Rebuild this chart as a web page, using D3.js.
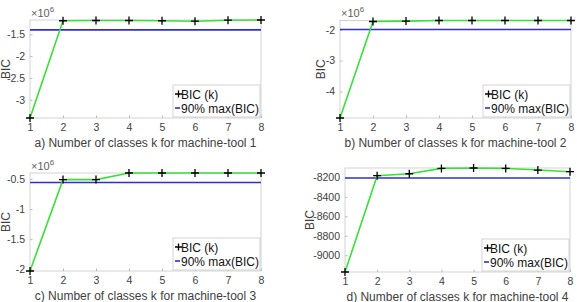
<!DOCTYPE html>
<html lang="en">
<head>
<meta charset="UTF-8">
<title>BIC vs number of classes</title>
<script src="https://d3js.org/d3.v7.min.js"></script>
<style>
  body { margin: 0; background: #fff; }
  text { font-family: "Liberation Sans", Arial, sans-serif; fill: #404040; }
</style>
</head>
<body>
<svg width="577" height="302"></svg>
<script>
// number of classes
const k = [1, 2, 3, 4, 5, 6, 7, 8];

// BIC values per machine-tool (a, b, c in units of 1e6)
const bicA = [-3.417, -1.19, -1.185, -1.185, -1.19, -1.20, -1.178, -1.173];
const bicB = [-4.86, -1.733, -1.72, -1.70, -1.70, -1.70, -1.70, -1.70];
const bicC = [-2.03, -0.51, -0.51, -0.40, -0.40, -0.40, -0.40, -0.40];
const bicD = [-9173, -8182, -8162, -8107, -8103, -8107, -8124, -8141];

// 90% max(BIC) thresholds
const thrA = -1.40, thrB = -1.99, thrC = -0.557, thrD = -8206;

// y tick values
const ticksA = [-3, -2.5, -2, -1.5];
const ticksB = [-4, -3, -2];
const ticksC = [-2, -1.5, -1, -0.5];
const ticksD = [-9000, -8800, -8600, -8400, -8200];

const titles = [
  'a) Number of classes k for machine-tool 1',
  'b) Number of classes k for machine-tool 2',
  'c) Number of classes k for machine-tool 3',
  'd) Number of classes k for machine-tool 4'
];

const panels = [
  { bic: bicA, thr: thrA, ticks: ticksA, exp: true,  box: [30, 261, 20, 118],   ylab: 10 },
  { bic: bicB, thr: thrB, ticks: ticksB, exp: true,  box: [340, 571, 20.5, 118], ylab: 325 },
  { bic: bicC, thr: thrC, ticks: ticksC, exp: true,  box: [30, 261, 173, 271],  ylab: 10 },
  { bic: bicD, thr: thrD, ticks: ticksD, exp: false, box: [345, 570, 168, 272], ylab: 314 }
];

const svg = d3.select('svg');

panels.forEach((p, i) => {
  const [x0, x1, y0, y1] = p.box;
  const x = d3.scaleLinear().domain([1, 8]).range([x0, x1]);
  const y = d3.scaleLinear().domain(d3.extent(p.bic)).range([y1, y0]);
  const g = svg.append('g');

  // axis box
  g.append('rect')
    .attr('x', x0).attr('y', y0)
    .attr('width', x1 - x0).attr('height', y1 - y0)
    .attr('fill', 'none').attr('stroke', '#c8c8c8').attr('stroke-width', 0.8);

  // x axis
  const xAxis = g.append('g')
    .attr('transform', `translate(0,${y1})`)
    .call(d3.axisBottom(x).tickValues(k).tickSize(-2.5).tickPadding(6).tickFormat(d3.format('d')));
  xAxis.select('.domain').remove();
  xAxis.selectAll('line').attr('stroke', '#bbb');
  xAxis.selectAll('text').attr('font-size', 10.5).style('fill', '#404040');

  // y axis
  const yAxis = g.append('g')
    .attr('transform', `translate(${x0},0)`)
    .call(d3.axisLeft(y).tickValues(p.ticks).tickSize(-2.5).tickPadding(5).tickFormat(d => String(d)));
  yAxis.select('.domain').remove();
  yAxis.selectAll('line').attr('stroke', '#bbb');
  yAxis.selectAll('text').attr('font-size', 10.5).style('fill', '#404040');

  // exponent label
  if (p.exp) {
    const t = g.append('text').attr('x', x0 + 1).attr('y', y0 - 3.5).attr('font-size', 11).style('fill', '#606060');
    t.append('tspan').text('\u00d710');
    t.append('tspan').attr('font-size', 8).attr('dy', -5).text('6');
  }

  // y label
  g.append('text')
    .attr('transform', `translate(${p.ylab},${(y0 + y1) / 2}) rotate(-90)`)
    .attr('text-anchor', 'middle')
    .attr('font-size', 12)
    .text('BIC');

  // threshold line
  g.append('line')
    .attr('x1', x(1)).attr('x2', x(8))
    .attr('y1', y(p.thr)).attr('y2', y(p.thr))
    .attr('stroke', '#2e2ed2').attr('stroke-width', 1.6);

  // BIC curve
  const line = d3.line().x((d, j) => x(k[j])).y(d => y(d));
  g.append('path')
    .datum(p.bic)
    .attr('d', line)
    .attr('fill', 'none')
    .attr('stroke', '#3ae03a').attr('stroke-width', 1.6);

  // + markers
  g.selectAll('.mk')
    .data(p.bic)
    .join('path')
    .attr('class', 'mk')
    .attr('transform', (d, j) => `translate(${x(k[j])},${y(d)})`)
    .attr('d', 'M-4,0H4M0,-4V4')
    .attr('stroke', '#000').attr('stroke-width', 1.3);

  // legend
  const lw = 87, lh = 32;
  const lx = x1 - lw - 1, ly = y1 - lh - 1;
  const lg = g.append('g').attr('transform', `translate(${lx},${ly})`);
  lg.append('rect')
    .attr('width', lw).attr('height', lh)
    .attr('fill', '#fff').attr('stroke', '#c8c8c8').attr('stroke-width', 0.8);
  lg.append('path').attr('d', 'M2,9H9M5.5,5.5V12.5').attr('stroke', '#000').attr('stroke-width', 1.3);
  lg.append('line').attr('x1', 2).attr('x2', 7).attr('y1', 23).attr('y2', 23)
    .attr('stroke', '#2e2ed2').attr('stroke-width', 1.6);
  lg.append('text').attr('x', 8).attr('y', 13.5).attr('font-size', 12).style('fill', '#111').text('BIC (k)');
  lg.append('text').attr('x', 8).attr('y', 27.5).attr('font-size', 12).style('fill', '#111').text('90% max(BIC)');

  // title
  g.append('text')
    .attr('x', (x0 + x1) / 2)
    .attr('y', y1 + 28.5)
    .attr('text-anchor', 'middle')
    .attr('font-size', 12)
    .text(titles[i]);
});
</script>
</body>
</html>
